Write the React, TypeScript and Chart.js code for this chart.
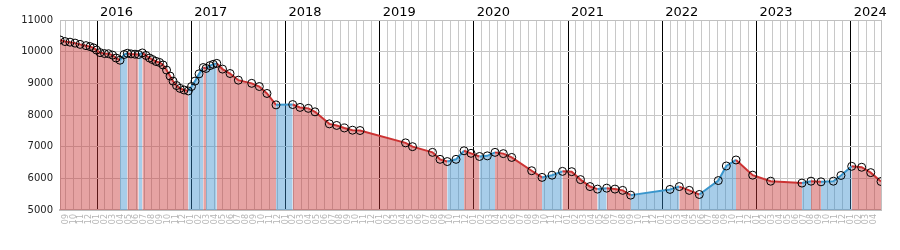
import { useEffect, useRef } from "react";
import { Chart, registerables } from "chart.js";

Chart.register(...registerables);

// Observation dates as decimal years, and the values read at them
const dates = [
  2015.607, 2015.66, 2015.713, 2015.767, 2015.82, 2015.883, 2015.926, 2015.963, 2015.995,
  2016.032, 2016.08, 2016.122, 2016.165, 2016.202, 2016.244, 2016.287, 2016.322, 2016.361,
  2016.403, 2016.441, 2016.481, 2016.52, 2016.557, 2016.589, 2016.626, 2016.663, 2016.701,
  2016.738, 2016.775, 2016.807, 2016.844, 2016.881, 2016.924, 2016.969,
  2017.003, 2017.04, 2017.083, 2017.128, 2017.157, 2017.199, 2017.234, 2017.271, 2017.332,
  2017.412, 2017.5, 2017.642, 2017.723, 2017.804, 2017.9,
  2018.077, 2018.155, 2018.243, 2018.314, 2018.466, 2018.544, 2018.625, 2018.712, 2018.792,
  2019.275, 2019.349, 2019.561, 2019.641, 2019.718, 2019.811, 2019.896, 2019.97,
  2020.06, 2020.143, 2020.225, 2020.313, 2020.402, 2020.614, 2020.724, 2020.83, 2020.941,
  2021.039, 2021.132, 2021.233, 2021.313, 2021.41, 2021.498, 2021.58, 2021.665,
  2022.082, 2022.181, 2022.287, 2022.393, 2022.595, 2022.68, 2022.783, 2022.96,
  2023.151, 2023.483, 2023.579, 2023.685, 2023.816, 2023.897,
  2024.011, 2024.117, 2024.213, 2024.322,
];

const values = [
  10370, 10320, 10300, 10270, 10230, 10190, 10160, 10120, 10050,
  9970, 9940, 9935, 9890, 9800, 9730, 9910, 9950, 9930,
  9920, 9910, 9960, 9880, 9800, 9750, 9690, 9660, 9580,
  9420, 9230, 9070, 8930, 8840, 8790, 8760,
  8900, 9070, 9300, 9500, 9470, 9560, 9600, 9630, 9450,
  9310, 9100, 9000, 8900, 8680, 8320,
  8330, 8240, 8210, 8100, 7720, 7670, 7590, 7520, 7510,
  7120, 7000, 6820, 6600, 6530, 6600, 6870, 6790,
  6690, 6710, 6820, 6780, 6660, 6240, 6030, 6100, 6220,
  6210, 5960, 5740, 5660, 5690, 5660, 5620, 5470,
  5650, 5740, 5620, 5490, 5930, 6390, 6580, 6100,
  5910, 5850, 5910, 5890, 5910, 6090,
  6380, 6350, 6180, 5900,
];

const yearTicks = [2016, 2017, 2018, 2019, 2020, 2021, 2022, 2023, 2024];
const monthLabels = ["01", "02", "03", "04", "05", "06", "07", "08", "09", "10", "11", "12"];
const firstMonthTick = { year: 2015, month: 9 };
const lastMonthTick = { year: 2024, month: 4 };
const valueTicks = [5000, 6000, 7000, 8000, 9000, 10000, 11000];

const FONT = "'DejaVu Sans', Verdana, sans-serif";
const RED_LINE = "#cc3333";
const RED_FILL = "rgba(200, 50, 50, 0.45)";
const BLUE_LINE = "#3a96cc";
const BLUE_FILL = "rgba(51, 140, 204, 0.43)";
const GRID = "#c8c8c8";
const BORDER = "#c0c0c0";

function buildMonthTicks() {
  const out: { value: number; label: string; jan: boolean }[] = [];
  let y = firstMonthTick.year;
  let m = firstMonthTick.month;
  while (y < lastMonthTick.year || (y === lastMonthTick.year && m <= lastMonthTick.month)) {
    out.push({ value: y + (m - 1) / 12, label: monthLabels[m - 1], jan: m === 1 });
    m++;
    if (m > 12) {
      m = 1;
      y++;
    }
  }
  return out;
}

export default function App() {
  const ref = useRef<HTMLCanvasElement>(null);

  useEffect(() => {
    const canvas = ref.current;
    if (!canvas) return;
    const monthTicks = buildMonthTicks();
    const labelFor = (v: number) => {
      const t = monthTicks.find((mt) => Math.abs(mt.value - v) < 1e-6);
      return t ? t.label : "";
    };
    const isJan = (v: number) => {
      const t = monthTicks.find((mt) => Math.abs(mt.value - v) < 1e-6);
      return t ? t.jan : false;
    };
    const up = (c: any) => c.p1.parsed.y > c.p0.parsed.y;
    const xMin = dates[0];
    const xMax = dates[dates.length - 1];

    const chart = new Chart(canvas, {
      type: "line",
      data: {
        datasets: [
          {
            data: dates.map((d, i) => ({ x: d, y: values[i] })),
            xAxisID: "x",
            yAxisID: "y",
            borderColor: RED_LINE,
            backgroundColor: RED_FILL,
            borderWidth: 2,
            tension: 0,
            fill: "start",
            pointRadius: 4,
            pointBorderWidth: 1,
            pointBorderColor: "#000",
            pointBackgroundColor: "rgba(255,255,255,0)",
            segment: {
              borderColor: (c: any) => (up(c) ? BLUE_LINE : RED_LINE),
              backgroundColor: (c: any) => (up(c) ? BLUE_FILL : RED_FILL),
            },
          } as any,
        ],
      },
      options: {
        responsive: false,
        maintainAspectRatio: false,
        animation: false,
        layout: { padding: { left: 0, right: 19, top: 0, bottom: 0 } },
        plugins: { legend: { display: false }, tooltip: { enabled: false } },
        scales: {
          x: {
            type: "linear",
            position: "bottom",
            min: xMin,
            max: xMax,
            afterBuildTicks: (s: any) => {
              s.ticks = monthTicks.map((t) => ({ value: t.value }));
            },
            ticks: {
              autoSkip: false,
              minRotation: 90,
              maxRotation: 90,
              padding: 4,
              color: "#b4b4b4",
              font: { family: FONT, size: 8 },
              callback: (v: any) => labelFor(Number(v)),
            },
            grid: {
              drawTicks: false,
              color: (c: any) => (c.tick && isJan(c.tick.value) ? "rgba(0,0,0,0)" : GRID),
            },
            border: { color: BORDER, width: 2 },
            afterFit: (s: any) => {
              s.height = 40;
              s.paddingLeft = 0;
              s.paddingRight = 0;
            },
          },
          xTop: {
            type: "linear",
            position: "top",
            min: xMin,
            max: xMax,
            afterBuildTicks: (s: any) => {
              s.ticks = yearTicks.map((v) => ({ value: v }));
            },
            ticks: {
              autoSkip: false,
              maxRotation: 0,
              minRotation: 0,
              align: "start",
              labelOffset: 3,
              padding: 0,
              color: "#000",
              font: { family: FONT, size: 13 },
              callback: (v: any) => String(Math.round(Number(v))),
            },
            grid: { drawTicks: false, color: "#000" },
            border: { color: BORDER },
            afterFit: (s: any) => {
              s.height = 20;
              s.paddingLeft = 0;
              s.paddingRight = 0;
            },
          },
          y: {
            type: "linear",
            position: "left",
            min: 5000,
            max: 11000,
            afterBuildTicks: (s: any) => {
              s.ticks = valueTicks.map((v) => ({ value: v }));
            },
            ticks: {
              padding: 7,
              color: "#222",
              font: { family: FONT, size: 10 },
              callback: (v: any) => String(v),
            },
            grid: { drawTicks: false, color: GRID },
            border: { color: BORDER },
            afterFit: (s: any) => {
              s.width = 60;
            },
          },
          y2: {
            type: "linear",
            position: "right",
            min: 5000,
            max: 11000,
            ticks: { display: false },
            grid: { drawOnChartArea: false, drawTicks: false },
            border: { color: BORDER },
            afterFit: (s: any) => {
              s.width = 0;
            },
          },
        },
      } as any,
    });
    return () => chart.destroy();
  }, []);

  return (
    <div
      style={{
        position: "absolute",
        left: 0,
        top: 0,
        width: 900,
        height: 250,
        overflow: "hidden",
        background: "#fff",
      }}
    >
      <canvas ref={ref} width={900} height={250} style={{ display: "block" }} />
    </div>
  );
}
